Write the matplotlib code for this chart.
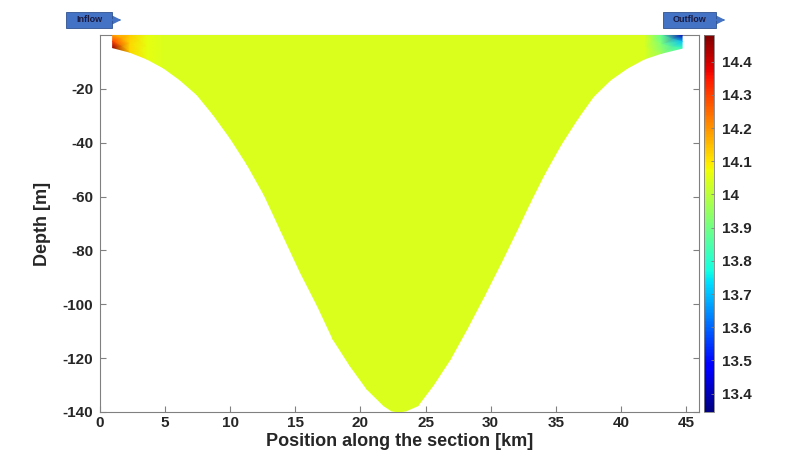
import numpy as np
import matplotlib
matplotlib.use('Agg')
import matplotlib.pyplot as plt
from matplotlib.patches import Rectangle
from matplotlib.ticker import FormatStrFormatter

plt.rcParams['font.family'] = ['Liberation Sans', 'DejaVu Sans']
plt.rcParams['axes.unicode_minus'] = False

# positions along the section [km] and bottom depth [m]
position = [0.97, 2.3, 3.6, 4.9, 6.15, 7.45, 8.7, 10.0, 11.3, 12.6, 13.9,
            15.4, 16.7, 17.9, 19.2, 20.5, 21.8, 22.4, 22.95, 23.5, 24.4,
            25.6, 26.9, 28.2, 29.5, 30.8, 32.05, 33.0, 34.1, 35.4, 36.7,
            37.9, 39.2, 40.5, 41.8, 43.1, 44.7]
bottom = [4.7, 6.4, 8.9, 12.3, 16.7, 22.2, 29.6, 38.3, 48.1, 59.3, 72.8,
          88.3, 100.6, 113, 122.8, 131.5, 137.7, 139.6, 140, 139.6, 137.7,
          130, 120.4, 109, 97, 84.6, 72.2, 62.5, 51.9, 40.7, 30.9,
          22.8, 16.7, 12.3, 8.9, 6.8, 4.9]

# temperature on three terrain-following levels (surface, middle, bottom)
interior = 14.045
n_inner = len(position) - 5
temp_surface = [14.18, 14.13, 14.06] + [interior] * n_inner + [13.88, 13.40]
temp_middle = [14.30, 14.12, 14.06] + [interior] * n_inner + [13.92, 13.70]
temp_bottom = [14.46, 14.12, 14.06] + [interior] * n_inner + [13.96, 13.82]
sigma = [0.0, 0.5, 1.0]

clim = (13.345, 14.48)
cbar_ticks = [13.4, 13.5, 13.6, 13.7, 13.8, 13.9, 14.0, 14.1, 14.2, 14.3, 14.4]

X = np.array([position] * len(sigma))
Z = -np.outer(sigma, bottom)
T = np.array([temp_surface, temp_middle, temp_bottom])

fig = plt.figure(figsize=(8, 4.68), dpi=100)
ax = fig.add_axes([0.125, 0.1197, 0.74875, 0.8055])
cax = fig.add_axes([0.88, 0.1197, 0.0125, 0.8055])

pc = ax.pcolormesh(X, Z, T, shading='gouraud', cmap='jet',
                   vmin=clim[0], vmax=clim[1], zorder=1)

ax.set_xlim(0, 46)
ax.set_ylim(-140, 0)
ax.set_xticks(range(0, 46, 5))
ax.set_yticks(range(-140, 0, 20))
ax.tick_params(direction='in', length=4, width=0.8, color='#808080',
               right=True, labelsize=11, pad=3)
ax.tick_params(axis='y', pad=5)
for lab in ax.get_xticklabels() + ax.get_yticklabels():
    lab.set_fontweight('bold')
    lab.set_color('#262626')
for sp in ax.spines.values():
    sp.set_color('#808080')
    sp.set_linewidth(0.8)
    sp.set_zorder(0)
ax.set_xlabel('Position along the section [km]', fontsize=13,
              fontweight='bold', color='#262626', labelpad=2)
ax.set_ylabel('Depth [m]', fontsize=13, fontweight='bold', color='#262626',
              labelpad=8)

cb = fig.colorbar(pc, cax=cax, ticks=cbar_ticks)
cb.outline.set_edgecolor('#808080')
cb.outline.set_linewidth(0.6)
cax.yaxis.set_major_formatter(FormatStrFormatter('%g'))
cax.tick_params(direction='in', length=2, width=0.6, color='#808080',
                labelsize=11, pad=6)
for lab in cax.get_yticklabels():
    lab.set_fontweight('bold')
    lab.set_color('#262626')

# Inflow / Outflow markers above the section
for x0, w, label in [(66, 46, 'Inflow'), (663, 53, 'Outflow')]:
    fig.patches.append(Rectangle((x0 / 800, 1 - 28 / 468), w / 800, 16 / 468,
                                 transform=fig.transFigure, facecolor='#4472C4',
                                 edgecolor='#2F528F', linewidth=0.6))
    fig.text((x0 + w / 2) / 800, 1 - 20 / 468, label, ha='center', va='center',
             fontsize=6.5, fontweight='bold', color='#1a1a40')
    fig.add_artist(plt.Line2D([(x0 + w) / 800, (x0 + w + 5) / 800],
                              [1 - 20 / 468] * 2, transform=fig.transFigure,
                              color='#4472C4', linewidth=1.2))
    ax.annotate('', xy=((x0 + w + 12) / 800, 1 - 20 / 468),
                xytext=((x0 + w + 4) / 800, 1 - 20 / 468),
                xycoords='figure fraction', textcoords='figure fraction',
                arrowprops=dict(arrowstyle='-|>,head_length=0.5,head_width=0.25',
                                color='#4472C4', lw=1.2))

fig.savefig('out.png', dpi=100)
